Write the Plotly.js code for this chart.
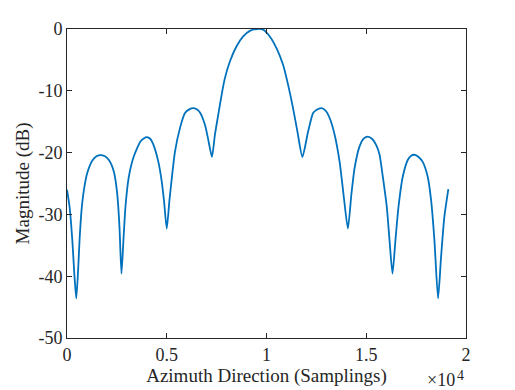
<!DOCTYPE html>
<html>
<head>
<meta charset="utf-8">
<script src="https://cdn.plot.ly/plotly-3.0.1.min.js"></script>
<style>
  html, body { margin: 0; padding: 0; background: #fff; }
  #chart { width: 515px; height: 390px; }
</style>
</head>
<body>
<div id="chart"></div>
<script>
// Azimuth profile (samples, dB)
const azimuth = [
  0, 130, 265, 365, 465, 565, 630, 730, 850, 1015, 1265, 1480, 1680, 1900, 2100, 2350, 2515, 2630, 2730,
  2830, 2930, 3100, 3350, 3680, 3850, 4000, 4180, 4330, 4580, 4750, 4865, 5000,
  5130, 5250, 5415, 5665, 5915, 6130, 6330, 6500, 6665, 6915, 7080, 7265,
  7415, 7580, 7750, 7915, 8165, 8500, 8830, 9165, 9550, 9830, 10165, 10500, 10830, 11080, 11330, 11550, 11800,
  12085, 12335, 12500, 12750, 12960, 13165, 13415, 13665, 13865, 14080,
  14250, 14415, 14665, 14880, 15080, 15300, 15500, 15665, 15830, 16030, 16165, 16315,
  16465, 16615, 16830, 17080, 17250, 17415, 17620, 17830, 18080, 18250, 18415, 18600,
  18750, 18915, 19115
];
const magnitude = [
  -26.0, -28.8, -34.1, -39.5, -43.6, -38.5, -34.1, -29.3, -26.0, -23.3, -21.3, -20.6, -20.4, -20.6, -21.2, -23.1, -26.6, -32.0, -39.6,
  -34.1, -28.8, -23.9, -20.6, -18.2, -17.7, -17.5, -17.8, -18.7, -21.5, -24.7, -27.9, -32.3,
  -27.9, -24.2, -19.8, -16.0, -13.6, -13.0, -12.8, -13.0, -13.5, -15.5, -17.9, -20.7,
  -17.1, -13.9, -10.65, -7.95, -5.25, -2.8, -1.2, -0.3, 0.0, -0.1, -1.2, -3.1, -5.8, -9.0, -12.8, -16.6, -20.7,
  -16.6, -13.6, -13.1, -12.8, -13.2, -14.4, -17.1, -21.5, -26.9, -32.3,
  -26.9, -22.5, -19.0, -17.7, -17.4, -17.8, -18.8, -20.3, -23.9, -28.8, -34.1, -39.6,
  -34.1, -28.8, -23.9, -21.2, -20.5, -20.35, -20.7, -21.5, -23.9, -27.7, -34.1, -43.6,
  -36.9, -30.4, -25.9
];

const xTickVals = [0, 5000, 10000, 15000, 20000];
const xTickText = ["0", "0.5", "1", "1.5", "2"];
const yTickVals = [0, -10, -20, -30, -40, -50];
const yTickText = ["0", "-10", "-20", "-30", "-40", "-50"];

const axisColor = "#262626";
const serif = "Liberation Serif, Times New Roman, serif";

const trace = {
  x: azimuth, y: magnitude, type: "scatter", mode: "lines",
  line: { color: "#0072BD", width: 1.8, shape: "spline", smoothing: 0.6 },
  hoverinfo: "skip",
};

// exponent label under the right end of the x axis (MATLAB style "×10^4")
const expBase = {
  text: "×10", xref: "paper", yref: "paper", x: 1, y: 0,
  xanchor: "right", yanchor: "middle", xshift: -10, yshift: -42,
  showarrow: false, borderpad: 0,
  font: { family: serif, size: 18, color: axisColor },
};
const expPow = {
  text: "4", xref: "paper", yref: "paper", x: 1, y: 0,
  xanchor: "left", yanchor: "middle", xshift: -10, yshift: -37,
  showarrow: false, borderpad: 0,
  font: { family: serif, size: 14, color: axisColor },
};

const layout = {
  width: 515, height: 390,
  margin: { l: 67, r: 49, t: 29, b: 52 },
  paper_bgcolor: "#fff", plot_bgcolor: "#fff",
  showlegend: false,
  font: { family: serif, size: 18, color: axisColor },
  xaxis: {
    range: [0, 20000], tickvals: xTickVals, ticktext: xTickText,
    ticks: "inside", ticklen: 5, tickcolor: axisColor, tickwidth: 1,
    showline: true, linecolor: axisColor, linewidth: 1, mirror: "ticks",
    showgrid: false, zeroline: false,
    tickfont: { family: serif, size: 18, color: axisColor },
    title: { text: "Azimuth Direction (Samplings)", standoff: 2,
             font: { family: serif, size: 19, color: axisColor } },
  },
  yaxis: {
    range: [-50, 0], tickvals: yTickVals, ticktext: yTickText,
    ticks: "inside", ticklen: 5, tickcolor: axisColor, tickwidth: 1,
    showline: true, linecolor: axisColor, linewidth: 1, mirror: "ticks",
    showgrid: false, zeroline: false,
    tickfont: { family: serif, size: 18, color: axisColor },
    title: { text: "Magnitude (dB)", standoff: 3,
             font: { family: serif, size: 19, color: axisColor } },
  },
  annotations: [expBase, expPow],
};

Plotly.newPlot("chart", [trace], layout, { displayModeBar: false, staticPlot: true });
</script>
</body>
</html>
